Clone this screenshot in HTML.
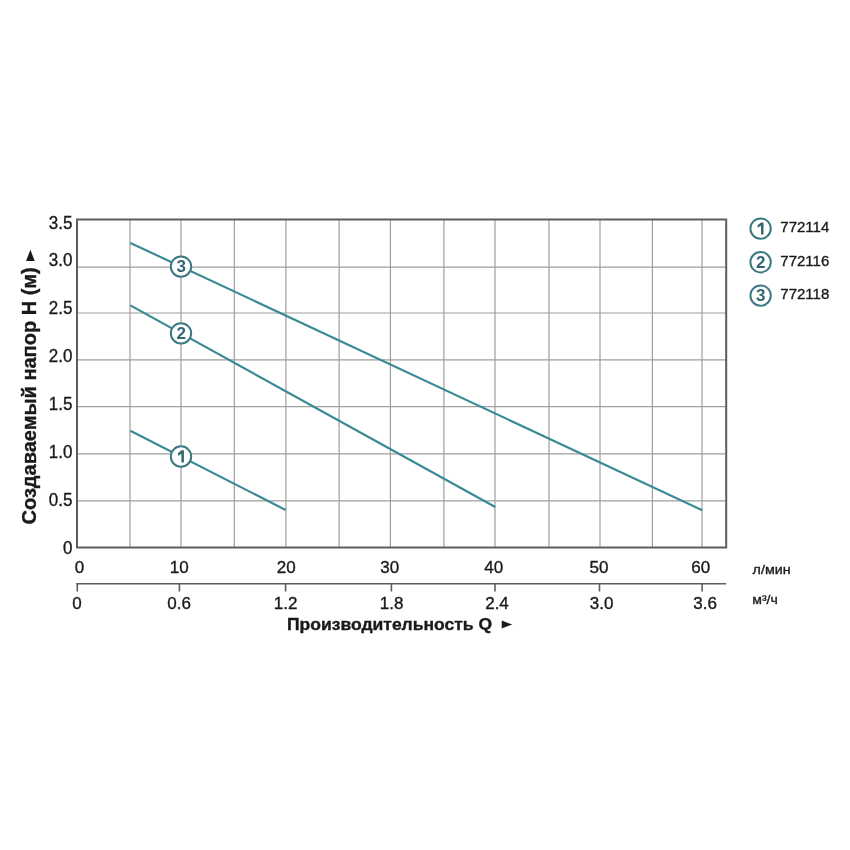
<!DOCTYPE html>
<html><head><meta charset="utf-8"><style>
html,body{margin:0;padding:0;background:#fff;width:850px;height:850px;overflow:hidden}
svg{display:block;will-change:transform}
</style></head><body>
<svg width="850" height="850" viewBox="0 0 850 850">
<rect x="0" y="0" width="850" height="850" fill="#ffffff"/>
<line x1="130" y1="219.5" x2="130" y2="547.5" stroke="#9e9e9e" stroke-width="1.2"/>
<line x1="181" y1="219.5" x2="181" y2="547.5" stroke="#9e9e9e" stroke-width="1.2"/>
<line x1="234.3" y1="219.5" x2="234.3" y2="547.5" stroke="#9e9e9e" stroke-width="1.2"/>
<line x1="285.9" y1="219.5" x2="285.9" y2="547.5" stroke="#9e9e9e" stroke-width="1.2"/>
<line x1="339.1" y1="219.5" x2="339.1" y2="547.5" stroke="#9e9e9e" stroke-width="1.2"/>
<line x1="390.4" y1="219.5" x2="390.4" y2="547.5" stroke="#9e9e9e" stroke-width="1.2"/>
<line x1="443.9" y1="219.5" x2="443.9" y2="547.5" stroke="#9e9e9e" stroke-width="1.2"/>
<line x1="495" y1="219.5" x2="495" y2="547.5" stroke="#9e9e9e" stroke-width="1.2"/>
<line x1="549" y1="219.5" x2="549" y2="547.5" stroke="#9e9e9e" stroke-width="1.2"/>
<line x1="600" y1="219.5" x2="600" y2="547.5" stroke="#9e9e9e" stroke-width="1.2"/>
<line x1="652.4" y1="219.5" x2="652.4" y2="547.5" stroke="#9e9e9e" stroke-width="1.2"/>
<line x1="702" y1="219.5" x2="702" y2="547.5" stroke="#9e9e9e" stroke-width="1.2"/>
<line x1="77" y1="267.2" x2="726.2" y2="267.2" stroke="#9e9e9e" stroke-width="1.2"/>
<line x1="77" y1="313.0" x2="726.2" y2="313.0" stroke="#9e9e9e" stroke-width="1.2"/>
<line x1="77" y1="359.8" x2="726.2" y2="359.8" stroke="#9e9e9e" stroke-width="1.2"/>
<line x1="77" y1="406.6" x2="726.2" y2="406.6" stroke="#9e9e9e" stroke-width="1.2"/>
<line x1="77" y1="453.9" x2="726.2" y2="453.9" stroke="#9e9e9e" stroke-width="1.2"/>
<line x1="77" y1="500.8" x2="726.2" y2="500.8" stroke="#9e9e9e" stroke-width="1.2"/>
<path d="M77 219.5 H726.2 V547.5 H77 Z" fill="none" stroke="#5e5e5e" stroke-width="2"/>
<line x1="130.35" y1="430.7" x2="285.6" y2="510" stroke="#3a8a96" stroke-width="2.2"/>
<line x1="130.35" y1="305.35" x2="495.2" y2="507" stroke="#3a8a96" stroke-width="2.2"/>
<line x1="130.35" y1="242.9" x2="702.2" y2="510.2" stroke="#3a8a96" stroke-width="2.2"/>
<circle cx="181" cy="456.57" r="10.2" fill="#ffffff" stroke="#3a7882" stroke-width="2"/>
<polygon points="181.40,450.37 183.90,450.37 183.90,462.57 181.40,462.57 181.40,453.67 178.00,455.67 178.00,453.27" fill="#2f6672"/>
<circle cx="181" cy="333.34" r="10.2" fill="#ffffff" stroke="#3a7882" stroke-width="2"/>
<text x="181.2" y="338.84" text-anchor="middle" font-family='"Liberation Sans", sans-serif' font-weight="bold" font-size="17" fill="#2f6672">2</text>
<circle cx="181" cy="266.58" r="10.2" fill="#ffffff" stroke="#3a7882" stroke-width="2"/>
<text x="181.2" y="272.08" text-anchor="middle" font-family='"Liberation Sans", sans-serif' font-weight="bold" font-size="17" fill="#2f6672">3</text>
<g transform="translate(72.5,229.3) scale(0.92,1)"><text x="0" y="0" text-anchor="end" font-family='"Liberation Sans", sans-serif' font-size="18.5" fill="#1a1a1a" stroke="#1a1a1a" stroke-width="0.35">3.5</text></g>
<g transform="translate(72.5,265.9) scale(0.92,1)"><text x="0" y="0" text-anchor="end" font-family='"Liberation Sans", sans-serif' font-size="18.5" fill="#1a1a1a" stroke="#1a1a1a" stroke-width="0.35">3.0</text></g>
<g transform="translate(72.5,313.7) scale(0.92,1)"><text x="0" y="0" text-anchor="end" font-family='"Liberation Sans", sans-serif' font-size="18.5" fill="#1a1a1a" stroke="#1a1a1a" stroke-width="0.35">2.5</text></g>
<g transform="translate(72.5,361.9) scale(0.92,1)"><text x="0" y="0" text-anchor="end" font-family='"Liberation Sans", sans-serif' font-size="18.5" fill="#1a1a1a" stroke="#1a1a1a" stroke-width="0.35">2.0</text></g>
<g transform="translate(72.5,410) scale(0.92,1)"><text x="0" y="0" text-anchor="end" font-family='"Liberation Sans", sans-serif' font-size="18.5" fill="#1a1a1a" stroke="#1a1a1a" stroke-width="0.35">1.5</text></g>
<g transform="translate(72.5,458.3) scale(0.92,1)"><text x="0" y="0" text-anchor="end" font-family='"Liberation Sans", sans-serif' font-size="18.5" fill="#1a1a1a" stroke="#1a1a1a" stroke-width="0.35">1.0</text></g>
<g transform="translate(72.5,505.7) scale(0.92,1)"><text x="0" y="0" text-anchor="end" font-family='"Liberation Sans", sans-serif' font-size="18.5" fill="#1a1a1a" stroke="#1a1a1a" stroke-width="0.35">0.5</text></g>
<g transform="translate(72.5,553.9) scale(0.92,1)"><text x="0" y="0" text-anchor="end" font-family='"Liberation Sans", sans-serif' font-size="18.5" fill="#1a1a1a" stroke="#1a1a1a" stroke-width="0.35">0</text></g>
<text x="79.4" y="572.5" text-anchor="middle" font-family='"Liberation Sans", sans-serif' font-size="17" fill="#1a1a1a" stroke="#1a1a1a" stroke-width="0.35">0</text>
<text x="179.3" y="572.5" text-anchor="middle" font-family='"Liberation Sans", sans-serif' font-size="17" fill="#1a1a1a" stroke="#1a1a1a" stroke-width="0.35">10</text>
<text x="286.3" y="572.5" text-anchor="middle" font-family='"Liberation Sans", sans-serif' font-size="17" fill="#1a1a1a" stroke="#1a1a1a" stroke-width="0.35">20</text>
<text x="389.8" y="572.5" text-anchor="middle" font-family='"Liberation Sans", sans-serif' font-size="17" fill="#1a1a1a" stroke="#1a1a1a" stroke-width="0.35">30</text>
<text x="493.8" y="572.5" text-anchor="middle" font-family='"Liberation Sans", sans-serif' font-size="17" fill="#1a1a1a" stroke="#1a1a1a" stroke-width="0.35">40</text>
<text x="598.9" y="572.5" text-anchor="middle" font-family='"Liberation Sans", sans-serif' font-size="17" fill="#1a1a1a" stroke="#1a1a1a" stroke-width="0.35">50</text>
<text x="700.7" y="572.5" text-anchor="middle" font-family='"Liberation Sans", sans-serif' font-size="17" fill="#1a1a1a" stroke="#1a1a1a" stroke-width="0.35">60</text>
<text x="77" y="609.1" text-anchor="middle" font-family='"Liberation Sans", sans-serif' font-size="17" fill="#1a1a1a" stroke="#1a1a1a" stroke-width="0.35">0</text>
<text x="179.1" y="609.1" text-anchor="middle" font-family='"Liberation Sans", sans-serif' font-size="17" fill="#1a1a1a" stroke="#1a1a1a" stroke-width="0.35">0.6</text>
<text x="285.6" y="609.1" text-anchor="middle" font-family='"Liberation Sans", sans-serif' font-size="17" fill="#1a1a1a" stroke="#1a1a1a" stroke-width="0.35">1.2</text>
<text x="391.6" y="609.1" text-anchor="middle" font-family='"Liberation Sans", sans-serif' font-size="17" fill="#1a1a1a" stroke="#1a1a1a" stroke-width="0.35">1.8</text>
<text x="497" y="609.1" text-anchor="middle" font-family='"Liberation Sans", sans-serif' font-size="17" fill="#1a1a1a" stroke="#1a1a1a" stroke-width="0.35">2.4</text>
<text x="601.6" y="609.1" text-anchor="middle" font-family='"Liberation Sans", sans-serif' font-size="17" fill="#1a1a1a" stroke="#1a1a1a" stroke-width="0.35">3.0</text>
<text x="705.1" y="609.1" text-anchor="middle" font-family='"Liberation Sans", sans-serif' font-size="17" fill="#1a1a1a" stroke="#1a1a1a" stroke-width="0.35">3.6</text>
<line x1="76.3" y1="583.7" x2="726.2" y2="583.7" stroke="#5e5e5e" stroke-width="1.6"/>
<line x1="77.3" y1="583" x2="77.3" y2="591.5" stroke="#5e5e5e" stroke-width="1.6"/>
<line x1="179.4" y1="583" x2="179.4" y2="591.5" stroke="#5e5e5e" stroke-width="1.6"/>
<line x1="285.6" y1="583" x2="285.6" y2="591.5" stroke="#5e5e5e" stroke-width="1.6"/>
<line x1="391.4" y1="583" x2="391.4" y2="591.5" stroke="#5e5e5e" stroke-width="1.6"/>
<line x1="495" y1="583" x2="495" y2="591.5" stroke="#5e5e5e" stroke-width="1.6"/>
<line x1="599.5" y1="583" x2="599.5" y2="591.5" stroke="#5e5e5e" stroke-width="1.6"/>
<line x1="702.1" y1="583" x2="702.1" y2="591.5" stroke="#5e5e5e" stroke-width="1.6"/>
<text transform="translate(752.6,574.4) scale(1.1,1)" x="0" y="0" font-family='"Liberation Sans", sans-serif' font-size="13" fill="#1a1a1a" stroke="#1a1a1a" stroke-width="0.35">л/мин</text>
<text transform="translate(752.3,604.4) scale(1.08,1)" x="0" y="0" font-family='"Liberation Sans", sans-serif' font-size="13" fill="#1a1a1a" stroke="#1a1a1a" stroke-width="0.35">м³/ч</text>
<g transform="translate(287,629.5) scale(1.095,1)"><text x="0" y="0" font-family='"Liberation Sans", sans-serif' font-weight="bold" font-size="16" fill="#1a1a1a" stroke="#1a1a1a" stroke-width="0.35">Производительность Q</text></g>
<polygon points="501.7,620.6 501.7,628.4 512.2,624.5" fill="#1a1a1a"/>
<g transform="translate(35.5,524.5) rotate(-90)"><text x="0" y="0" font-family='"Liberation Sans", sans-serif' font-weight="bold" font-size="20" fill="#1a1a1a" stroke="#1a1a1a" stroke-width="0.35">Создаваемый напор H (м)</text></g>
<polygon points="26,261 34.7,261 30.4,249.8" fill="#1a1a1a"/>
<circle cx="760.6" cy="228.6" r="10.2" fill="#ffffff" stroke="#3a7882" stroke-width="2"/>
<polygon points="761.00,222.40 763.50,222.40 763.50,234.60 761.00,234.60 761.00,225.70 757.60,227.70 757.60,225.30" fill="#2f6672"/>
<text x="780.3" y="232.29999999999998" font-family='"Liberation Sans", sans-serif' font-size="15" fill="#1a1a1a" stroke="#1a1a1a" stroke-width="0.35">772114</text>
<circle cx="760.6" cy="262.2" r="10.2" fill="#ffffff" stroke="#3a7882" stroke-width="2"/>
<text x="760.8000000000001" y="267.7" text-anchor="middle" font-family='"Liberation Sans", sans-serif' font-weight="bold" font-size="17" fill="#2f6672">2</text>
<text x="780.3" y="265.9" font-family='"Liberation Sans", sans-serif' font-size="15" fill="#1a1a1a" stroke="#1a1a1a" stroke-width="0.35">772116</text>
<circle cx="760.6" cy="295.6" r="10.2" fill="#ffffff" stroke="#3a7882" stroke-width="2"/>
<text x="760.8000000000001" y="301.1" text-anchor="middle" font-family='"Liberation Sans", sans-serif' font-weight="bold" font-size="17" fill="#2f6672">3</text>
<text x="780.3" y="299.3" font-family='"Liberation Sans", sans-serif' font-size="15" fill="#1a1a1a" stroke="#1a1a1a" stroke-width="0.35">772118</text>
</svg>
</body></html>
